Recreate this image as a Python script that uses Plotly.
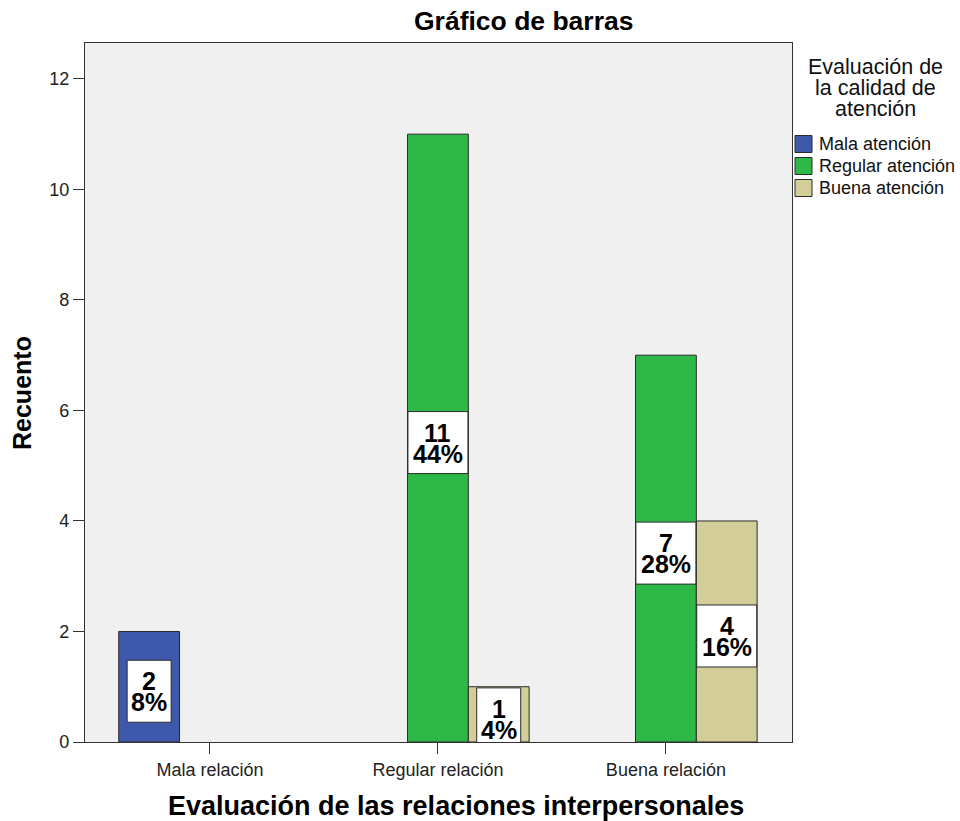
import plotly.graph_objects as go

# ---- data ----
categories = ["Mala relación", "Regular relación", "Buena relación"]
series_names = ["Mala atención", "Regular atención", "Buena atención"]
mala_atencion = [2, None, None]
regular_atencion = [None, 11, 7]
buena_atencion = [None, 1, 4]
y_ticks = [0, 2, 4, 6, 8, 10, 12]
total_n = 25

series_values = [mala_atencion, regular_atencion, buena_atencion]
colors = ["#3E58AC", "#2EB848", "#D3CE97"]
outline = "#2a2a2a"

# ---- layout geometry ----
W, H = 960, 821
ML, MR, MT, MB = 85, 168, 43, 79
PW, PH = W - ML - MR, H - MT - MB
BARGAP = 0.2
FONT = "Liberation Sans, Arial, sans-serif"


def px_x(px):
    return (px - ML) / PW


def px_y(py):
    return (H - MB - py) / PH


fig = go.Figure()
xs = list(range(len(categories)))
for name, vals, col in zip(series_names, series_values, colors):
    fig.add_trace(go.Bar(
        x=xs, y=vals, name=name,
        marker=dict(color=col, line=dict(color=outline, width=1)),
        showlegend=False, hoverinfo="skip",
    ))

# ---- value labels (count + percentage in white boxes) ----
nser = len(series_values)
slot = (1 - BARGAP) / nser
for k, vals in enumerate(series_values):
    for i, v in enumerate(vals):
        if v is None:
            continue
        xc = i + (k - (nser - 1) / 2) * slot
        yc = v / 2
        pct = f"{round(v / total_n * 100)}%"
        bw = 60 if len(pct) >= 3 else 44
        fig.add_shape(
            type="rect", xref="x", yref="y", layer="above",
            xsizemode="pixel", xanchor=xc, x0=-bw / 2, x1=bw / 2,
            ysizemode="pixel", yanchor=yc, y0=-4.5 - 31, y1=-4.5 + 31,
            fillcolor="white", line=dict(color=outline, width=1),
        )
        fig.add_annotation(
            x=xc, y=yc, xref="x", yref="y", text=str(v), showarrow=False,
            yshift=-4.5 + 10, font=dict(family=FONT, size=25, color="black", weight="bold"),
        )
        fig.add_annotation(
            x=xc, y=yc, xref="x", yref="y", text=pct, showarrow=False,
            yshift=-4.5 - 11, font=dict(family=FONT, size=25, color="black", weight="bold"),
        )

# ---- titles ----
fig.add_annotation(
    x=px_x(523), y=px_y(21), xref="paper", yref="paper", text="Gráfico de barras",
    showarrow=False, xanchor="center", yanchor="middle",
    font=dict(family=FONT, size=26.5, color="black", weight="bold"),
)
fig.add_annotation(
    x=px_x(456), y=px_y(806), xref="paper", yref="paper",
    text="Evaluación de las relaciones interpersonales",
    showarrow=False, xanchor="center", yanchor="middle",
    font=dict(family=FONT, size=27, color="black", weight="bold"),
)
fig.add_annotation(
    x=px_x(22), y=px_y(393), xref="paper", yref="paper", text="Recuento",
    showarrow=False, xanchor="center", yanchor="middle", textangle=-90,
    font=dict(family=FONT, size=25, color="black", weight="bold"),
)

# ---- manual legend ----
legend_title = ["Evaluación de", "la calidad de", "atención"]
for j, line in enumerate(legend_title):
    fig.add_annotation(
        x=px_x(875), y=px_y(67 + 21 * j), xref="paper", yref="paper", text=line,
        showarrow=False, xanchor="center", yanchor="middle",
        font=dict(family=FONT, size=21.5, color="#111"),
    )
for j, (name, col) in enumerate(zip(series_names, colors)):
    cy = 144 + 22 * j
    fig.add_shape(
        type="rect", xref="paper", yref="paper",
        x0=px_x(795), x1=px_x(812), y0=px_y(cy + 8.5), y1=px_y(cy - 8.5),
        fillcolor=col, line=dict(color=outline, width=1),
    )
    fig.add_annotation(
        x=px_x(817), y=px_y(cy), xref="paper", yref="paper", text=name,
        showarrow=False, xanchor="left", yanchor="middle",
        font=dict(family=FONT, size=18, color="#111"),
    )

axis_common = dict(
    showgrid=False, zeroline=False, showline=True, mirror=True,
    linecolor="#333", linewidth=1.3, ticks="outside", ticklen=11,
    tickcolor="#333", tickwidth=1.3,
    tickfont=dict(family=FONT, size=18, color="#222"),
)
fig.update_layout(
    width=W, height=H, autosize=False,
    margin=dict(l=ML, r=MR, t=MT, b=MB),
    paper_bgcolor="white", plot_bgcolor="#F0F0F0",
    barmode="group", bargap=BARGAP, bargroupgap=0,
    showlegend=False,
    xaxis=dict(range=[-0.548, 2.553], tickmode="array", tickvals=xs,
               ticktext=categories, **axis_common),
    yaxis=dict(range=[0, 12.65], tickmode="array", tickvals=y_ticks, **axis_common),
)

fig.write_html(
    "out.html",
    config={"displayModeBar": False},
    post_script="document.body.style.margin='0';document.body.style.overflow='hidden';",
)
